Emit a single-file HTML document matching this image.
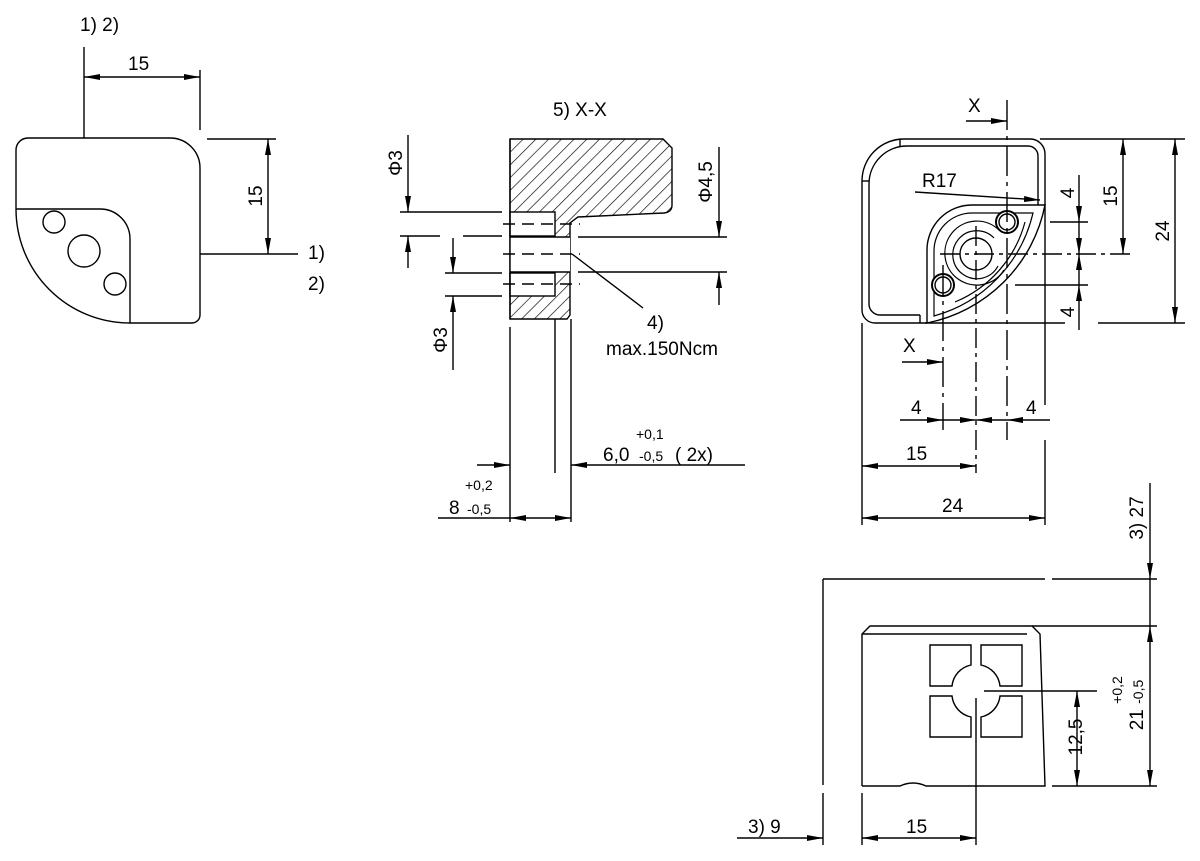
<!DOCTYPE html>
<html><head><meta charset="utf-8"><style>
html,body{margin:0;padding:0;background:#fff}
svg{display:block}
text{font-family:"Liberation Sans",sans-serif;fill:#000}
</style></head><body>
<svg width="1200" height="861" viewBox="0 0 1200 861" xmlns="http://www.w3.org/2000/svg">
<defs>
<marker id="a" viewBox="0 0 16 6" refX="16" refY="3" markerWidth="16" markerHeight="6" markerUnits="userSpaceOnUse" orient="auto-start-reverse"><path d="M0,0 L16,3 L0,6 z" fill="#000"/></marker>
<pattern id="h" patternUnits="userSpaceOnUse" width="9" height="9" patternTransform="rotate(45)"><line x1="0" y1="0" x2="0" y2="9" stroke="#000" stroke-width="1.3"/></pattern>
</defs>
<g stroke="#000" stroke-width="1.4" fill="none">
<!-- LEFT VIEW -->
<path d="M28,138 H170 A30,30 0 0 1 200,168 V315 A8,8 0 0 1 192,323 H130 A114,114 0 0 1 16,209 V150 A12,12 0 0 1 28,138 Z"/>
<path d="M16,209 H100 A30,30 0 0 1 130,239 V323"/>
<circle cx="54" cy="222" r="11"/><circle cx="84" cy="251" r="16"/><circle cx="115" cy="284" r="11"/>
<line x1="84" y1="47" x2="84" y2="138"/><line x1="200" y1="70" x2="200" y2="130"/>
<line x1="84" y1="77" x2="200" y2="77" marker-start="url(#a)" marker-end="url(#a)"/>
<line x1="207" y1="139" x2="276" y2="139"/><line x1="200" y1="254" x2="298" y2="254"/>
<line x1="268" y1="139" x2="268" y2="254" marker-start="url(#a)" marker-end="url(#a)"/>

<!-- SECTION VIEW -->
<path d="M510,139 H663 L672,148 V205 Q672,212 664,213 L578,217 L570,223 V315 L567,319 H510 Z" fill="url(#h)"/>
<rect x="510" y="212" width="45" height="24" fill="#fff"/>
<rect x="510" y="237" width="60" height="35" fill="#fff" stroke="none"/>
<line x1="510" y1="237" x2="570" y2="237"/><line x1="510" y1="272" x2="570" y2="272"/>
<rect x="510" y="273" width="45" height="23" fill="#fff"/>
<line x1="510" y1="139" x2="510" y2="319"/>
<g stroke-dasharray="12,7"><line x1="503" y1="224" x2="580" y2="224"/><line x1="503" y1="254" x2="580" y2="254"/><line x1="503" y1="284" x2="580" y2="284"/></g>
<line x1="400" y1="212" x2="502" y2="212"/><line x1="400" y1="236" x2="440" y2="236"/><line x1="463" y1="236" x2="502" y2="236"/>
<line x1="408" y1="135" x2="408" y2="212" marker-end="url(#a)"/><line x1="408" y1="268" x2="408" y2="236" marker-end="url(#a)"/>
<line x1="445" y1="273" x2="502" y2="273"/><line x1="445" y1="296" x2="502" y2="296"/>
<line x1="453" y1="238" x2="453" y2="273" marker-end="url(#a)"/><line x1="453" y1="370" x2="453" y2="296" marker-end="url(#a)"/>
<line x1="578" y1="237" x2="727" y2="237"/><line x1="578" y1="272" x2="727" y2="272"/>
<line x1="719" y1="147" x2="719" y2="237" marker-end="url(#a)"/><line x1="719" y1="305" x2="719" y2="272" marker-end="url(#a)"/>
<line x1="572" y1="254" x2="643" y2="308"/>
<line x1="510" y1="327" x2="510" y2="522"/><line x1="555" y1="319" x2="555" y2="473"/><line x1="571" y1="319" x2="571" y2="522"/>
<line x1="477" y1="465" x2="510" y2="465" marker-end="url(#a)"/><line x1="745" y1="465" x2="571" y2="465" marker-end="url(#a)"/>
<line x1="438" y1="518" x2="510" y2="518"/><line x1="510" y1="518" x2="571" y2="518" marker-start="url(#a)" marker-end="url(#a)"/>

<!-- RIGHT VIEW -->
<path d="M927,323 H875 A13,13 0 0 1 862,310 V181 A42,42 0 0 1 904,139 H1030 A15,15 0 0 1 1045,154 V205"/>
<path d="M920,315 H880 A11,11 0 0 1 869,304 V184 A38,38 0 0 1 907,146 H1028 A10,10 0 0 1 1038,156 V205"/>
<line x1="900" y1="139" x2="900" y2="146"/><line x1="862" y1="181" x2="869" y2="181"/><line x1="920" y1="315" x2="920" y2="323"/>
<path d="M927,323 V250 A45,45 0 0 1 972,205 H1045 A150,150 0 0 1 927,323 Z"/>
<path d="M934,316 V252 A38,38 0 0 1 972,213 H1033 A140,140 0 0 1 934,316 Z" stroke-width="1.2"/>
<path d="M999,230 A32,32 0 1 0 1004,270" stroke-width="1.2"/>
<path d="M994,238 A24,24 0 1 0 998,266" stroke-width="1.2"/>
<path d="M1025,222 A120,120 0 0 1 955,302" stroke-width="1.2"/>
<circle cx="976" cy="254" r="16"/>
<circle cx="1007" cy="222" r="11" stroke-width="2" fill="#fff"/><circle cx="1007" cy="222" r="8"/>
<circle cx="943" cy="285" r="11" stroke-width="2" fill="#fff"/><circle cx="943" cy="285" r="8"/>
<line x1="1007" y1="100" x2="1007" y2="440" stroke-dasharray="30,6,4,6"/>
<line x1="943" y1="265" x2="943" y2="430" stroke-dasharray="30,6,4,6"/>
<line x1="976" y1="226" x2="976" y2="473" stroke-dasharray="20,5,4,5"/>
<line x1="940" y1="254" x2="1130" y2="254" stroke-dasharray="20,5,4,5"/>
<line x1="1050" y1="222" x2="1088" y2="222"/><line x1="1015" y1="285" x2="1088" y2="285"/>
<line x1="925" y1="323" x2="1065" y2="323"/><line x1="1098" y1="323" x2="1185" y2="323"/>
<line x1="1040" y1="139" x2="1185" y2="139"/>
<line x1="915" y1="192" x2="1040" y2="200" marker-end="url(#a)"/>
<line x1="1079" y1="175" x2="1079" y2="222" marker-end="url(#a)"/><line x1="1079" y1="222" x2="1079" y2="254" marker-end="url(#a)"/>
<line x1="1079" y1="285" x2="1079" y2="254" marker-end="url(#a)"/><line x1="1079" y1="330" x2="1079" y2="285" marker-end="url(#a)"/>
<line x1="1123" y1="139" x2="1123" y2="254" marker-start="url(#a)" marker-end="url(#a)"/>
<line x1="1175" y1="139" x2="1175" y2="323" marker-start="url(#a)" marker-end="url(#a)"/>
<line x1="966" y1="121" x2="1007" y2="121" marker-end="url(#a)"/>
<line x1="902" y1="362" x2="943" y2="362" marker-end="url(#a)"/>
<line x1="1045" y1="205" x2="1045" y2="405"/><line x1="1045" y1="440" x2="1045" y2="525"/><line x1="862" y1="323" x2="862" y2="525"/>
<line x1="900" y1="420" x2="943" y2="420" marker-end="url(#a)"/><line x1="943" y1="420" x2="976" y2="420" marker-end="url(#a)"/>
<line x1="1007" y1="420" x2="976" y2="420" marker-end="url(#a)"/><line x1="1050" y1="420" x2="1007" y2="420" marker-end="url(#a)"/>
<line x1="862" y1="466" x2="976" y2="466" marker-start="url(#a)" marker-end="url(#a)"/>
<line x1="862" y1="518" x2="1045" y2="518" marker-start="url(#a)" marker-end="url(#a)"/>

<!-- BOTTOM VIEW -->
<line x1="823" y1="579" x2="1045" y2="579"/><line x1="1052" y1="579" x2="1157" y2="579"/>
<line x1="823" y1="579" x2="823" y2="785"/><line x1="823" y1="793" x2="823" y2="845"/>
<path d="M862,786 V634 L870,626 H1032 L1040,634 L1045,786 H926 Q913,780 900,786 H862"/>
<line x1="862" y1="634" x2="1027" y2="634"/>
<line x1="1032" y1="626" x2="1157" y2="626"/><line x1="1052" y1="786" x2="1157" y2="786"/>
<path d="M930,645 H971 V665 A24,24 0 0 0 952,686 H930 Z"/>
<path d="M981,645 H1022 V686 H1000 A24,24 0 0 0 981,665 Z"/>
<path d="M930,696 H952 A24,24 0 0 0 971,717 V737 H930 Z"/>
<path d="M1000,696 H1022 V737 H981 V717 A24,24 0 0 0 1000,696 Z"/>
<line x1="984" y1="691" x2="1097" y2="691"/><line x1="976" y1="698" x2="976" y2="845"/>
<line x1="1077" y1="691" x2="1077" y2="786" marker-start="url(#a)" marker-end="url(#a)"/>
<line x1="1150" y1="483" x2="1150" y2="579" marker-end="url(#a)"/>
<line x1="1150" y1="579" x2="1150" y2="626"/>
<line x1="1150" y1="626" x2="1150" y2="786" marker-start="url(#a)" marker-end="url(#a)"/>
<line x1="737" y1="838" x2="823" y2="838" marker-end="url(#a)"/>
<line x1="862" y1="793" x2="862" y2="845"/>
<line x1="862" y1="838" x2="976" y2="838" marker-start="url(#a)" marker-end="url(#a)"/>
</g>

<g font-size="19">
<text x="80" y="31">1)  2)</text>
<text x="128" y="70">15</text>
<text transform="translate(262,196) rotate(-90)" text-anchor="middle">15</text>
<text x="308" y="259">1)</text><text x="308" y="290">2)</text>
<text x="553" y="116">5)  X-X</text>
<text transform="translate(402,163) rotate(-90)" text-anchor="middle">Φ3</text>
<text transform="translate(447,340) rotate(-90)" text-anchor="middle">Φ3</text>
<text transform="translate(712,182) rotate(-90)" text-anchor="middle">Φ4,5</text>
<text x="647" y="329">4)</text>
<text x="606" y="355">max.150Ncm</text>
<text x="603" y="461">6,0</text><text x="639" y="461" font-size="14">-0,5</text><text x="675" y="461">( 2x)</text>
<text x="636" y="439" font-size="14">+0,1</text>
<text x="465" y="490" font-size="14">+0,2</text>
<text x="449" y="514">8</text><text x="467" y="514" font-size="14">-0,5</text>
<text x="968" y="112">X</text>
<text x="903" y="352">X</text>
<text x="922" y="187">R17</text>
<text transform="translate(1074,193) rotate(-90)" text-anchor="middle">4</text>
<text transform="translate(1074,312) rotate(-90)" text-anchor="middle">4</text>
<text transform="translate(1117,196) rotate(-90)" text-anchor="middle">15</text>
<text transform="translate(1169,231) rotate(-90)" text-anchor="middle">24</text>
<text x="911" y="414">4</text><text x="1026" y="414">4</text>
<text x="906" y="460">15</text>
<text x="942" y="512">24</text>
<text transform="translate(1143,518) rotate(-90)" text-anchor="middle">3)  27</text>
<text transform="translate(1082,737) rotate(-90)" text-anchor="middle">12,5</text>
<text transform="translate(1122,690) rotate(-90)" text-anchor="middle" font-size="14">+0,2</text>
<text transform="translate(1143,705) rotate(-90)" text-anchor="middle">21 <tspan font-size="14">-0,5</tspan></text>
<text x="748" y="833">3)   9</text>
<text x="906" y="833">15</text>
</g>
</svg>
</body></html>
